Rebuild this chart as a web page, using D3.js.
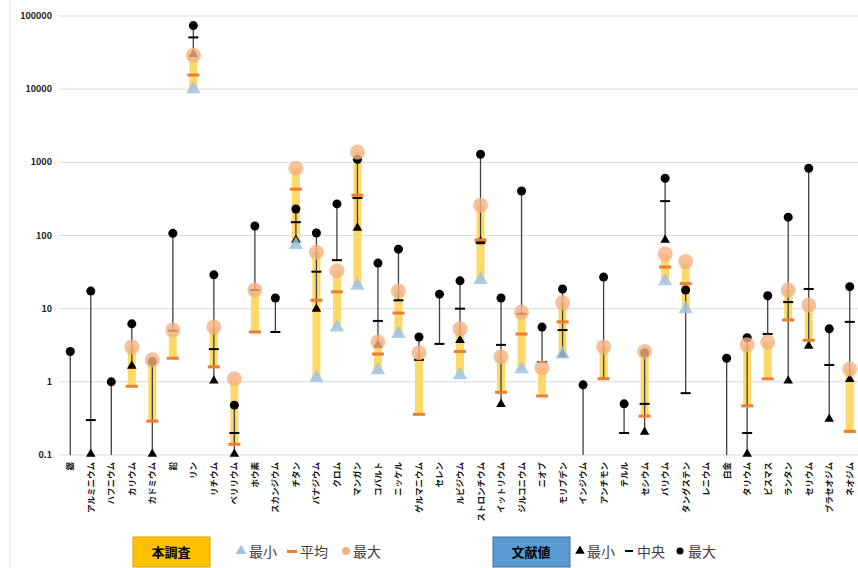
<!DOCTYPE html>
<html>
<head>
<meta charset="utf-8">
<style>
body { margin: 0; background: #fff; }
svg { font-family: "Noto Sans CJK JP", "Noto Sans", sans-serif; }
.grid line { stroke: #d9d9d9; stroke-width: 1; }
.ylab { font-size: 9px; font-weight: bold; fill: #222; }
.xlab { font-size: 8.5px; font-weight: bold; fill: #111; }
.leg { font-size: 14px; fill: #404040; }
</style>
</head>
<body>
<svg id="chart" width="858" height="568"></svg>
<script src="https://d3js.org/d3.v7.min.js"></script>
<script>
let elements = ["銀", "アルミニウム", "ハフニウム", "カリウム", "カドミウム", "鉛", "リン", "リチウム",
    "ベリリウム", "ホウ素", "スカンジウム", "チタン", "バナジウム", "クロム", "マンガン", "コバルト",
    "ニッケル", "ゲルマニウム", "セレン", "ルビジウム", "ストロンチウム", "イットリウム", "ジルコニウム",
    "ニオブ", "モリブデン", "インジウム", "アンチモン", "テルル", "セシウム", "バリウム", "タングステン",
    "レニウム", "白金", "タリウム", "ビスマス", "ランタン", "セリウム", "プラセオジム", "ネオジム"];

// 本調査 (this survey)
let surveyMin  = [null, null, null, null, null, null, 9700, null, null, null, null, 72, 1.1, 5.4, 20, 1.4,
    4.4, null, null, 1.2, 24, null, 1.45, null, 2.3, null, null, null, null, 23, 9.6,
    null, null, null, null, null, null, null, null];
let surveyMean = [null, null, null, 0.87, 0.29, 2.1, 15600, 1.6, 0.14, 4.8, null, 430, 13, 17, 355, 2.4,
    8.7, 0.36, null, 2.6, 87, 0.72, 4.5, 0.64, 6.6, null, 1.1, null, 0.34, 37, 22,
    null, null, 0.47, 1.1, 7, 3.7, null, 0.21];
let surveyMax  = [null, null, null, 3.0, 2.0, 5.1, 29000, 5.6, 1.1, 18, null, 830, 59, 33, 1380, 3.5,
    17.4, 2.5, null, 5.3, 260, 2.2, 8.9, 1.55, 12, null, 3.0, null, 2.6, 56, 44,
    null, null, 3.2, 3.5, 18, 11.2, null, 1.5];

// 文献値 (literature); 0 = below the axis
let litMin    = [0, 0.1, 0, 1.6, 0.1, null, 29000, 1.0, 0.1, null, null, 84, 9.6, null, 123, 3.1,
    null, null, null, 3.6, 80, 0.48, null, null, 2.3, 0, null, null, 0.2, 84, null,
    null, 0, 0.1, null, 1.0, 3.0, 0.3, 1.05];
let litMedian = [null, 0.3, null, null, null, 5, 51000, 2.8, 0.2, 18, 4.8, 152, 32, 46, 325, 6.8,
    13, 2.0, 3.3, 10, 81, 3.2, 8.5, 1.86, 5.1, null, 1.1, 0.2, 0.5, 295, 0.7,
    null, null, 0.2, 4.5, 12.3, 18.6, 1.7, 6.6];
let litMax    = [2.6, 17.4, 1.0, 6.2, 1.9, 107, 74000, 29, 0.48, 135, 14, 230, 108, 270, 1100, 42,
    65, 4.1, 15.8, 24, 1290, 14, 405, 5.6, 18.6, 0.91, 27, 0.5, 2.5, 605, 18,
    null, 2.1, 4.0, 15, 178, 830, 5.3, 20];

let yTicks = [0.1, 1, 10, 100, 1000, 10000, 100000];

let svg = d3.select("#chart");

let y = d3.scaleLog().domain([0.1, 100000]).range([455, 16]).clamp(true);
let x = d3.scaleBand().domain(elements).range([60, 860]);
let cx = i => x(elements[i]) + x.bandwidth() / 2;

// outer border line at left
svg.append("line").attr("x1", 10).attr("x2", 10).attr("y1", 0).attr("y2", 568)
    .attr("stroke", "#e3e3e3");

// gridlines + y labels
let grid = svg.append("g").attr("class", "grid");
grid.selectAll("line").data(yTicks).join("line")
    .attr("x1", 60).attr("x2", 858)
    .attr("y1", d => y(d)).attr("y2", d => y(d));
svg.append("g").selectAll("text").data(yTicks).join("text")
    .attr("class", "ylab")
    .attr("x", 52).attr("y", d => y(d) + 3)
    .attr("text-anchor", "end")
    .text(d => String(d));

// x labels (vertical)
svg.append("g").selectAll("text").data(elements).join("text")
    .attr("class", "xlab")
    .attr("transform", (d, i) => "translate(" + (cx(i) + 3) + ",462) rotate(-90)")
    .attr("text-anchor", "end")
    .text(d => d);

let idx = d3.range(elements.length);
let has = v => v !== null && v !== undefined;
let vis = v => has(v) && v >= 0.1;

// yellow survey bars
svg.append("g").selectAll("rect")
    .data(idx.filter(i => has(surveyMax[i])))
    .join("rect")
    .attr("x", i => cx(i) - 4)
    .attr("width", 8)
    .attr("y", i => y(surveyMax[i]))
    .attr("height", i => y(has(surveyMin[i]) ? surveyMin[i] : surveyMean[i]) - y(surveyMax[i]))
    .attr("fill", "#FFD966");

// literature lines: from max down to the lowest value given
let litLow = i => {
    if (has(litMin[i])) return litMin[i] > 0 ? y(litMin[i]) : 455;
    if (has(litMedian[i])) return y(litMedian[i]);
    return y(litMax[i]);
};
svg.append("g").selectAll("line")
    .data(idx.filter(i => has(litMax[i])))
    .join("line")
    .attr("x1", cx).attr("x2", cx)
    .attr("y1", i => y(litMax[i]))
    .attr("y2", litLow)
    .attr("stroke", "#404040").attr("stroke-width", 1.3);

let tri = d3.symbol().type(d3.symbolTriangle);

// literature markers
svg.append("g").selectAll("path")
    .data(idx.filter(i => vis(litMin[i])))
    .join("path")
    .attr("d", tri.size(40)())
    .attr("transform", i => "translate(" + cx(i) + "," + (y(litMin[i]) - 1) + ")")
    .attr("fill", "#000");
svg.append("g").selectAll("rect")
    .data(idx.filter(i => vis(litMedian[i])))
    .join("rect")
    .attr("x", i => cx(i) - 5).attr("width", 10)
    .attr("y", i => y(litMedian[i]) - 1).attr("height", 2)
    .attr("fill", "#000");
svg.append("g").selectAll("circle")
    .data(idx.filter(i => vis(litMax[i])))
    .join("circle")
    .attr("cx", cx).attr("cy", i => y(litMax[i]))
    .attr("r", 4.5).attr("fill", "#000");

// survey markers
svg.append("g").selectAll("path")
    .data(idx.filter(i => vis(surveyMin[i])))
    .join("path")
    .attr("d", tri.size(90)())
    .attr("transform", i => "translate(" + cx(i) + "," + (y(surveyMin[i]) - 1) + ")")
    .attr("fill", "#9DC3E6").attr("fill-opacity", 0.85);
svg.append("g").selectAll("rect")
    .data(idx.filter(i => vis(surveyMean[i])))
    .join("rect")
    .attr("x", i => cx(i) - 6).attr("width", 12)
    .attr("y", i => y(surveyMean[i]) - 1.5).attr("height", 3)
    .attr("fill", "#ED7D31");
svg.append("g").selectAll("circle")
    .data(idx.filter(i => vis(surveyMax[i])))
    .join("circle")
    .attr("cx", cx).attr("cy", i => y(surveyMax[i]))
    .attr("r", 7.5).attr("fill", "#F4B183").attr("fill-opacity", 0.8);

// legend
let leg = svg.append("g");
leg.append("rect").attr("x", 133).attr("y", 537).attr("width", 77).attr("height", 30)
    .attr("fill", "#FFC000").attr("stroke", "#d9a300");
leg.append("text").attr("x", 171).attr("y", 557).attr("text-anchor", "middle")
    .attr("font-size", 13).attr("font-weight", "bold").text("本調査");
leg.append("path").attr("d", tri.size(50)()).attr("transform", "translate(241,551)")
    .attr("fill", "#9DC3E6");
leg.append("text").attr("class", "leg").attr("x", 249).attr("y", 557).text("最小");
leg.append("rect").attr("x", 287).attr("y", 550).attr("width", 10).attr("height", 3)
    .attr("fill", "#ED7D31");
leg.append("text").attr("class", "leg").attr("x", 300).attr("y", 557).text("平均");
leg.append("circle").attr("cx", 346).attr("cy", 551).attr("r", 4).attr("fill", "#F4B183");
leg.append("text").attr("class", "leg").attr("x", 353).attr("y", 557).text("最大");

leg.append("rect").attr("x", 493).attr("y", 537).attr("width", 77).attr("height", 30)
    .attr("fill", "#5B9BD5").attr("stroke", "#41719c");
leg.append("text").attr("x", 531).attr("y", 557).attr("text-anchor", "middle")
    .attr("font-size", 13).attr("font-weight", "bold").text("文献値");
leg.append("path").attr("d", tri.size(40)()).attr("transform", "translate(580,551)")
    .attr("fill", "#000");
leg.append("text").attr("class", "leg").attr("x", 587).attr("y", 557).text("最小");
leg.append("rect").attr("x", 625).attr("y", 550).attr("width", 8).attr("height", 2)
    .attr("fill", "#000");
leg.append("text").attr("class", "leg").attr("x", 637).attr("y", 557).text("中央");
leg.append("circle").attr("cx", 680).attr("cy", 551).attr("r", 3.5).attr("fill", "#000");
leg.append("text").attr("class", "leg").attr("x", 688).attr("y", 557).text("最大");
</script>
</body>
</html>
